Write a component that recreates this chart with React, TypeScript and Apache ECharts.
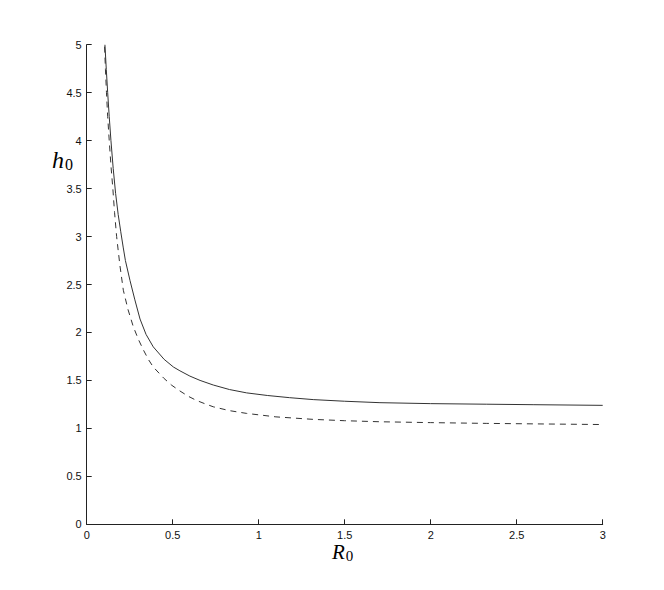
import React, { useEffect, useRef } from "react";
import * as echarts from "echarts";

const xTicks = { min: 0, max: 3, interval: 0.5 };
const yTicks = { min: 0, max: 5, interval: 0.5 };

const solidX = [0.106, 0.114, 0.122, 0.131, 0.141, 0.154, 0.168, 0.183, 0.198, 0.212, 0.225, 0.252, 0.28, 0.31, 0.345, 0.387, 0.45, 0.504, 0.542, 0.6, 0.659, 0.736, 0.83, 0.93, 1.05, 1.18, 1.317, 1.5, 1.705, 2.0, 2.326, 2.6, 3.0];
const solidY = [5.0, 4.74, 4.5, 4.25, 4.0, 3.71, 3.45, 3.23, 3.05, 2.89, 2.75, 2.54, 2.34, 2.14, 1.98, 1.85, 1.72, 1.64, 1.6, 1.545, 1.5, 1.452, 1.405, 1.37, 1.343, 1.32, 1.3, 1.283, 1.268, 1.258, 1.252, 1.247, 1.24];

const dashedX = [0.104, 0.109, 0.115, 0.122, 0.131, 0.141, 0.152, 0.162, 0.174, 0.193, 0.213, 0.24, 0.271, 0.3, 0.329, 0.358, 0.387, 0.45, 0.494, 0.542, 0.59, 0.64, 0.69, 0.736, 0.83, 0.93, 1.1, 1.317, 1.5, 1.705, 2.0, 2.326, 2.6, 3.0];
const dashedY = [4.98, 4.74, 4.5, 4.25, 4.0, 3.74, 3.5, 3.25, 3.0, 2.7, 2.44, 2.24, 2.06, 1.93, 1.82, 1.72, 1.64, 1.52, 1.45, 1.39, 1.335, 1.29, 1.255, 1.225, 1.185, 1.156, 1.12, 1.094, 1.08, 1.069, 1.06, 1.052, 1.047, 1.04];

const pair = (xs: number[], ys: number[]) => xs.map((x, i) => [x, ys[i]]);

export default function App() {
  const ref = useRef<HTMLDivElement>(null);
  useEffect(() => {
    if (!ref.current) return;
    const chart = echarts.init(ref.current, null, { renderer: "svg" });
    const axisCommon = {
      axisLine: { lineStyle: { color: "#222", width: 1 } },
      axisTick: { inside: true, length: 5, lineStyle: { color: "#222" } },
      splitLine: { show: false },
      axisLabel: { color: "#111", fontSize: 11, fontFamily: "Liberation Sans, Arial, sans-serif" },
    };
    chart.setOption({
      animation: false,
      backgroundColor: "#fff",
      grid: { left: 86.7, right: 61.3, top: 44.7, bottom: 65.7, containLabel: false },
      xAxis: {
        type: "value",
        ...xTicks,
        ...axisCommon,
        axisLabel: { ...axisCommon.axisLabel, margin: 5 },
      },
      yAxis: {
        type: "value",
        ...yTicks,
        ...axisCommon,
        axisLabel: { ...axisCommon.axisLabel, margin: 5 },
      },
      graphic: [
        {
          type: "text",
          left: 52,
          top: 148,
          style: {
            text: "{h|h}{s|0}",
            rich: {
              h: { fontFamily: "Liberation Serif, Times New Roman, serif", fontStyle: "italic", fontSize: 24, fill: "#000" },
              s: { fontFamily: "Liberation Serif, Times New Roman, serif", fontSize: 16, fill: "#000", padding: [8, 0, 0, 1] },
            },
          },
        },
        {
          type: "text",
          left: 332,
          top: 540,
          style: {
            text: "{r|R}{s|0}",
            rich: {
              r: { fontFamily: "Liberation Serif, Times New Roman, serif", fontStyle: "italic", fontSize: 21, lineHeight: 20, fill: "#000" },
              s: { fontFamily: "Liberation Serif, Times New Roman, serif", fontSize: 15, lineHeight: 20, fill: "#000", padding: [8, 0, 0, 1] },
            },
          },
        },
      ],
      series: [
        {
          type: "line",
          data: pair(solidX, solidY),
          showSymbol: false,
          smooth: false,
          lineStyle: { color: "#333", width: 1 },
        },
        {
          type: "line",
          data: pair(dashedX, dashedY),
          showSymbol: false,
          smooth: false,
          lineStyle: { color: "#333", width: 1, type: [6, 5] },
        },
      ],
    });
    return () => chart.dispose();
  }, []);
  return <div ref={ref} style={{ width: 664, height: 590, position: "absolute", left: 0, top: 0 }} />;
}
